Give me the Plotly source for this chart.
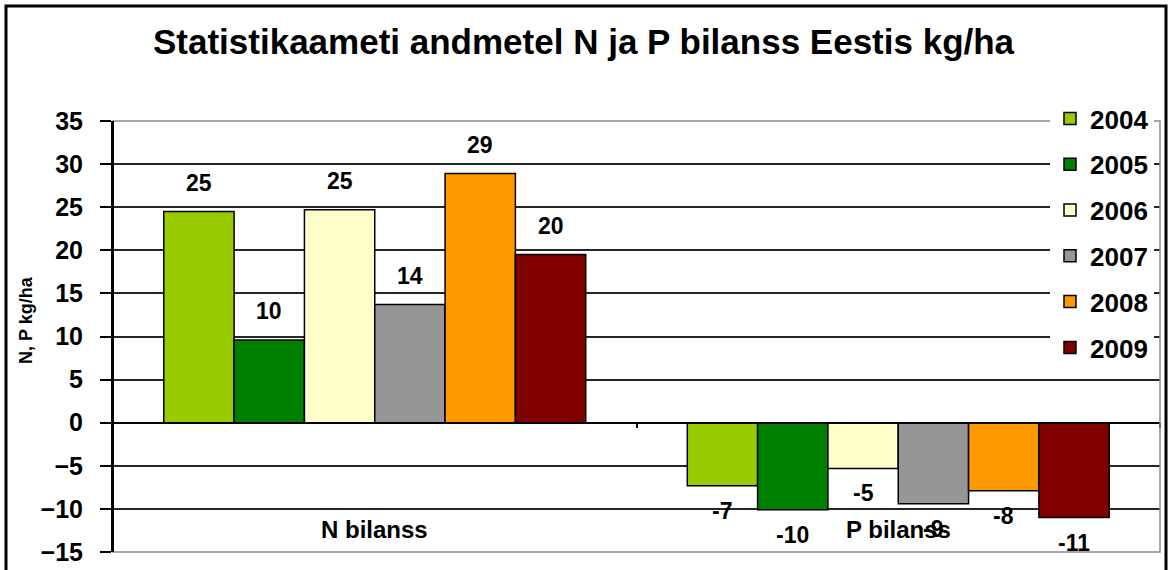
import plotly.graph_objects as go
import math

categories = ["N bilanss", "P bilanss"]
years = ["2004", "2005", "2006", "2007", "2008", "2009"]
n_values = [24.5, 9.6, 24.7, 13.7, 28.9, 19.5]
p_values = [-7.3, -10.1, -5.3, -9.4, -7.9, -11.0]
colors = ["#99CC00", "#008000", "#FFFFCC", "#969696", "#FF9900", "#800000"]
y_ticks = [-15, -10, -5, 0, 5, 10, 15, 20, 25, 30, 35]

title_text = "Statistikaameti andmetel N ja P bilanss Eestis kg/ha"
y_title = "N, P kg/ha"

FONT = "Liberation Sans, Arial, sans-serif"
BARGAP = 0.194


def lab(v):
    return str(int(math.floor(abs(v) + 0.5)) * (1 if v >= 0 else -1))


fig = go.Figure()
for i, yr in enumerate(years):
    vals = [n_values[i], p_values[i]]
    fig.add_trace(go.Bar(
        x=categories, y=vals, name=yr,
        marker=dict(color=colors[i], line=dict(color="black", width=1.5)),
        legendgroup=yr,
    ))

L, R, T, B = 113, 1160, 121, 552
W, H = 1171, 570
pw, ph = R - L, B - T


def px(x):
    return (x - L) / pw


def py(y):
    return (B - y) / ph


# data labels placed at each bar through the category axis
bar_w = (1 - BARGAP) / len(years)
label_ann = []
for i in range(len(years)):
    for ci, vals in enumerate([n_values, p_values]):
        v = vals[i]
        xpos = ci - (1 - BARGAP) / 2 + (i + 0.5) * bar_w
        label_ann.append(dict(
            text=lab(v), xref="x", yref="y", x=xpos, y=v, showarrow=False,
            xanchor="center", yanchor="middle", yshift=29 if v >= 0 else -25,
            font=dict(family=FONT, size=23, color="black", weight="bold")))

frame = dict(color="black", width=3)

fig.update_layout(
    width=W, height=H,
    margin=dict(l=L, r=W - R, t=T, b=H - B, autoexpand=False),
    paper_bgcolor="white", plot_bgcolor="white",
    barmode="group", bargap=BARGAP, bargroupgap=0,
    showlegend=True,
    legend=dict(x=px(1050), y=py(95), xanchor="left", yanchor="top",
                bgcolor="white", borderwidth=0,
                font=dict(family=FONT, size=26, color="black", weight="bold"),
                traceorder="grouped", tracegroupgap=9, itemwidth=30),
    xaxis=dict(type="category", anchor="free", position=0.3,
               showline=True, linecolor="black", linewidth=1.5,
               ticks="outside", tickson="boundaries", ticklen=5,
               tickcolor="black", tickwidth=1.5,
               showticklabels=False, showgrid=False, zeroline=False),
    yaxis=dict(range=[-15, 35], tickvals=y_ticks, ticks="outside", ticklen=11,
               tickcolor="black", tickwidth=1.5,
               showline=True, linecolor="black", linewidth=2,
               showgrid=True, gridcolor="#262626", gridwidth=1.5,
               zeroline=False, ticklabelstandoff=12,
               tickfont=dict(family=FONT, size=25, color="black", weight="bold")),
    annotations=[
        dict(text=title_text, xref="paper", yref="paper", x=px(584), y=py(42),
             xanchor="center", yanchor="middle", showarrow=False,
             font=dict(family=FONT, size=35, color="black", weight="bold")),
        dict(text=y_title, xref="paper", yref="paper", x=px(26), y=py(320),
             xanchor="center", yanchor="middle", showarrow=False, textangle=-90,
             font=dict(family=FONT, size=18, color="black", weight="bold")),
    ] + [
        dict(text=c, xref="x", yref="y", x=c, y=-12.4, showarrow=False,
             xanchor="center", yanchor="middle",
             font=dict(family=FONT, size=24, color="black", weight="bold"))
        for c in categories
    ] + label_ann,
    shapes=[
        dict(type="rect", xref="paper", yref="paper", x0=0, x1=1, y0=0, y1=1,
             line=dict(color="#8a8a8a", width=1.5), layer="above"),
        dict(type="line", xref="paper", yref="paper", x0=0, x1=0, y0=0, y1=1,
             line=dict(color="black", width=2), layer="above"),
        dict(type="rect", xref="paper", yref="paper", x0=px(6), x1=px(1166),
             y0=py(600), y1=py(6), line=frame, fillcolor="rgba(0,0,0,0)",
             layer="below"),
    ],
)

fig.write_html("out.html", config={"displayModeBar": False},
               post_script="document.body.style.margin='0';")
